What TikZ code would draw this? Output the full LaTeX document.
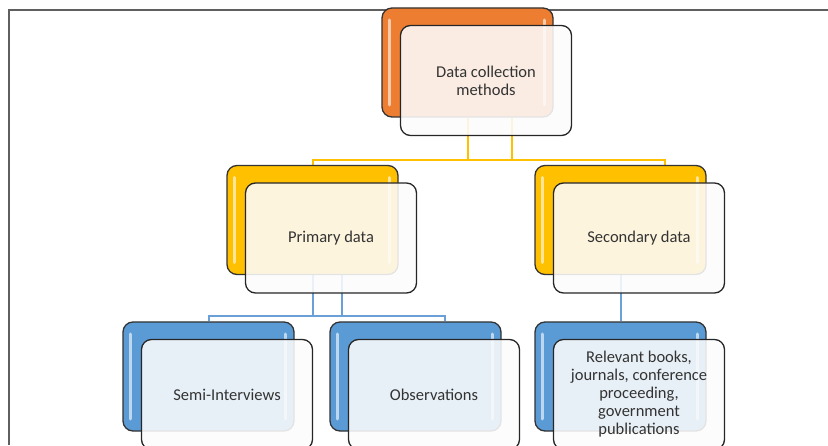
\documentclass[tikz,border=0pt]{standalone}
\usepackage{fontspec}
\setmainfont{Carlito}
\usepackage{tikz}
\usetikzlibrary{positioning, backgrounds}

\definecolor{cardorange}{HTML}{ED7D31}
\definecolor{cardyellow}{HTML}{FFC000}
\definecolor{cardblue}{HTML}{5B9BD5}
\definecolor{lineblue}{HTML}{6A9FD8}
\definecolor{framegray}{HTML}{5F5F5F}
\definecolor{textgray}{HTML}{333333}

\begin{document}
\begin{tikzpicture}[
    x=1pt, y=1pt,
    backbox/.style={draw=black!80, line width=1.3pt, rounded corners=10pt,
        minimum width=171pt, minimum height=109pt, inner sep=0pt,
        path picture={
            \draw[white, opacity=0.6, line width=3pt, line cap=round]
                ([xshift=7pt, yshift=-12pt]path picture bounding box.north west) -- ([xshift=7pt, yshift=12pt]path picture bounding box.south west)
                ([xshift=-9pt, yshift=-12pt]path picture bounding box.north east) -- ([xshift=-9pt, yshift=12pt]path picture bounding box.south east);
        }},
    frontbox/.style={draw=black!85, line width=1.3pt, rounded corners=10pt,
        fill=gray!2, fill opacity=0.88, text opacity=1, text=textgray,
        minimum width=171pt, minimum height=110pt, inner sep=0pt,
        align=center, font=\fontsize{16.5}{18}\selectfont},
    yline/.style={draw=cardyellow, line width=2pt},
    bline/.style={draw=lineblue, line width=2pt}
]

% ==========================================
% 1. Card: coloured box with a white box on top
% ==========================================
\tikzset{
    pics/card/.style 2 args={
        code={
            \node[backbox, fill=#1] (-back) at (0,0) {};   % coloured box behind
            \node[frontbox] (-front) at (18.5,-18) {#2};   % text box in front
        }
    }
}

\useasboundingbox (0,0) rectangle (828,445);

% ==========================================
% 2. Place the cards
% ==========================================
\pic (top)  at (467.5, 382.5) {card={cardorange}{Data collection\\methods}};
\pic (prim) at (312.5, 225)   {card={cardyellow}{Primary data}};
\pic (sec)  at (620.5, 225)   {card={cardyellow}{Secondary data}};
\pic (semi) at (208.5, 68.5)  {card={cardblue}{Semi-Interviews}};
\pic (obs)  at (415.5, 68.5)  {card={cardblue}{Observations}};
\pic (rel)  at (620.5, 68.5)  {card={cardblue}{Relevant books,\\journals, conference\\proceeding,\\government\\publications}};

% ==========================================
% 3. Connectors and frame (behind the cards)
% ==========================================
\begin{scope}[on background layer]
    \draw[framegray, line width=2pt] (8.5,0) -- (8.5,434.5) -- (828,434.5);

    \coordinate (ybus) at (0, 284.5);   % level of the yellow line
    \coordinate (bbus) at (0, 128.5);   % level of the blue line
    \coordinate (yR) at ([xshift=44.5pt]sec-back.north);
    \coordinate (bR) at ([xshift=29.5pt]obs-back.north);

    % top card to the yellow cards
    \draw[yline] (top-back.south) -- (top-back.south |- ybus);
    \draw[yline] ([xshift=44pt]top-back.south) -- ([xshift=44pt]top-back.south |- ybus);
    \draw[yline] (prim-back.north) -- (prim-back.north |- ybus) -- (yR |- ybus) -- (yR);

    % primary data to its two cards
    \draw[bline] (prim-back.south) -- (prim-back.south |- bbus);
    \draw[bline] ([xshift=29pt]prim-back.south) -- ([xshift=29pt]prim-back.south |- bbus);
    \draw[bline] (semi-back.north) -- (semi-back.north |- bbus) -- (bR |- bbus) -- (bR);

    % secondary data to its card
    \draw[bline] (sec-back.south) -- (rel-back.north);
\end{scope}

\end{tikzpicture}
\end{document}
